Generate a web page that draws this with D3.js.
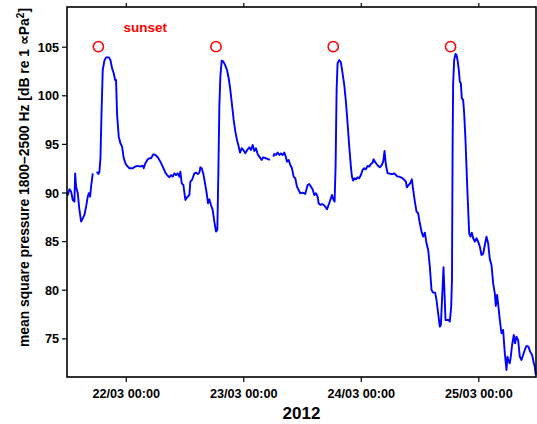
<!DOCTYPE html>
<html>
<head>
<meta charset="utf-8">
<script src="https://cdn.jsdelivr.net/npm/d3@7"></script>
<style>
  html, body { margin: 0; padding: 0; background: #fff; }
  svg { display: block; font-family: "Liberation Sans", Arial, Helvetica, sans-serif; }
</style>
</head>
<body>
<div id="chart"></div>
<script>
// mean square pressure 1800–2500 Hz, 21/03 – 25/03 2012
// hours are counted from 21/03/2012 00:00, null = gap in the record

const hours = [
  12.0, 12.16, 12.5, 12.84, 13.18, 13.52, 13.66, 13.86, 14.2, 14.54, 14.88, 15.22, 15.56, 15.9,
  16.24, 16.45, 16.72, 16.92, 17.26, 17.6,
  18.08, 18.42, 18.62, 18.83, 19.03, 19.3, 19.64, 19.98, 20.53, 20.87, 21.21, 21.55, 21.82, 22.02,
  22.23, 22.57, 22.91, 23.25, 23.59, 23.93, 24.27, 24.75, 25.43, 25.9, 26.45, 26.92, 27.47, 27.67,
  28.01, 28.49, 28.83, 29.17, 29.64, 30.05, 30.53, 31.07, 31.55, 32.09, 32.43, 32.91, 33.25, 33.59,
  33.93, 34.27, 34.61, 34.95, 35.15, 35.43, 35.77, 36.17,
  36.65, 36.99, 37.19, 37.53, 38.01, 38.35, 38.69, 39.03, 39.24, 39.51, 39.85, 40.19, 40.53, 40.8,
  41.07, 41.41, 41.75, 42.09, 42.43, 42.7, 42.91, 43.11, 43.32, 43.59, 43.93, 44.27, 44.68, 45.02,
  45.36, 45.7, 46.04, 46.38, 46.72, 47.06, 47.33, 47.67, 48.01, 48.42, 48.9, 49.24, 49.58, 49.92,
  50.26, 50.6, 50.94, 51.28, 51.75, 52.09, 52.64, 53.18, 53.45, 53.8,
  54.13, 54.34, 54.68, 55.02, 55.36, 55.7, 56.04, 56.38, 56.72, 56.92, 57.26, 57.6, 57.94, 58.28,
  58.62, 58.96, 59.3, 59.64, 60.12, 60.66,
  61.14, 61.48, 61.82, 62.16, 62.5, 62.84, 63.18, 63.39, 63.73, 64.07, 64.41, 64.75, 65.09, 65.43,
  65.77, 66.11, 66.38, 66.65, 66.85, 67.06, 67.26, 67.6, 67.94, 68.28, 68.62, 68.96, 69.3, 69.64,
  69.98, 70.19, 70.46, 70.73, 71.0, 71.34, 71.68, 72.02, 72.36, 72.7, 73.04, 73.38, 73.72, 74.07,
  74.41, 74.61, 74.88, 75.22, 75.56, 75.9, 76.31, 76.58, 76.85, 77.13, 77.47, 77.81, 78.15, 78.49,
  78.83, 79.17, 79.51, 79.85, 80.19, 80.53, 80.87, 81.21, 81.41, 81.75, 82.09, 82.43, 82.7, 83.04,
  83.38, 83.72, 84.06, 84.4, 84.74, 85.08, 85.42, 85.76, 86.1, 86.44, 86.78, 87.19, 87.46, 87.8,
  88.14, 88.35, 88.62, 88.89, 89.1, 89.3, 89.64, 89.91, 90.18, 90.46, 90.62, 90.76, 90.86, 91.07,
  91.34, 91.54, 91.75, 92.02, 92.22, 92.43, 92.63, 92.9, 93.11, 93.38, 93.58, 93.79, 94.0, 94.13,
  94.4, 94.67, 94.95, 95.29, 95.63, 95.97, 96.31, 96.65, 96.99, 97.33, 97.67, 98.01, 98.35, 98.69,
  99.03, 99.37, 99.57, 99.84, 100.11, 100.39, 100.73, 101.07, 101.41, 101.75, 101.95, 102.22, 102.43, 102.63,
  102.9, 103.24, 103.51, 103.78, 104.13, 104.47, 104.81, 105.15, 105.49, 105.83, 106.24, 106.58, 106.99, 107.33,
  107.53, 107.73
];

const levels = [
  89.9, 89.74, 90.33, 90.09, 89.23, 89.06, 91.97, 90.6, 89.92, 88.2, 87.0, 87.34, 87.69, 88.54,
  89.57, 89.92, 89.57, 90.6, 91.97, null,
  92.14, 91.9, 92.14, 93.52, 97.8, 102.6, 103.56, 103.9, 103.9, 103.63, 102.77, 102.26, 101.57, 101.57,
  97.97, 95.74, 95.06, 94.72, 93.52, 93.0, 92.73, 92.49, 92.49, 92.66, 92.73, 92.66, 92.76, 92.49,
  93.0, 93.41, 93.52, 93.52, 93.93, 93.86, 93.62, 93.17, 92.66, 92.04, 91.8, 91.56, 91.8, 91.63,
  91.97, 91.8, 91.97, 91.63, 92.14, 90.94, 90.77, 89.23,
  89.57, 89.74, 91.12, 91.29, 91.97, 92.04, 91.9, 92.04, 92.59, 92.49, 91.9, 90.94, 89.92, 88.89,
  89.3, 88.72, 88.2, 87.0, 85.97, 86.14, 91.97, 98.83, 101.92, 103.56, 103.46, 103.12, 102.6, 101.75,
  100.55, 99.0, 97.46, 96.26, 95.4, 94.72, 94.1, 94.55, 94.37, 94.03, 94.44, 94.65, 94.37, 94.89,
  94.27, 94.55, 93.93, 93.69, 93.35, 93.62, 93.52, 93.41, 93.35, null,
  93.69, 93.96, 93.86, 94.1, 93.86, 94.03, 93.86, 94.1, 93.62, 93.17, 93.35, 92.83, 92.49, 91.63,
  91.46, 90.6, 90.26, 89.92, 89.98, 89.85,
  90.77, 90.88, 90.6, 90.33, 89.74, 89.92, 89.57, 88.89, 88.72, 88.82, 88.72, 88.54, 88.27, 88.72,
  89.23, 89.74, 89.3, 89.06, 92.66, 100.55, 103.29, 103.63, 103.36, 102.26, 101.06, 99.35, 97.12, 94.72,
  92.66, 91.63, 91.22, 91.46, 91.36, 91.56, 91.46, 91.8, 92.31, 92.49, 92.38, 92.73, 92.66, 92.93,
  93.07, 93.41, 93.17, 92.93, 92.73, 92.59, 92.83, 93.17, 94.27, 92.83, 91.97, 91.97, 91.9, 91.9,
  91.97, 91.8, 91.63, 91.63, 91.56, 91.46, 91.29, 91.12, 90.53, 90.77, 90.94, 91.36, 90.26, 89.06,
  88.03, 87.86, 86.83, 85.97, 85.46, 85.87, 84.77, 84.09, 82.37, 79.97, 79.7, 79.7, 78.94, 77.57,
  76.2, 76.37, 79.29, 82.31, 79.63, 76.89, 76.89, 76.89, 76.72, 78.26, 81.0, 95.4, 101.23, 103.63,
  104.25, 104.15, 103.63, 102.6, 101.4, 101.23, 99.69, 99.52, 98.15, 95.4, 92.66, 89.92, 87.4, 85.8,
  85.46, 85.87, 85.29, 84.95, 85.29, 84.95, 84.43, 83.57, 83.68, 84.6, 85.46, 84.77, 83.13, 82.54,
  80.66, 79.63, 78.33, 79.46, 78.26, 76.89, 75.52, 75.86, 73.46, 71.74, 73.11, 72.6, 72.43, 73.11,
  74.31, 75.34, 74.49, 75.17, 74.83, 73.11, 72.77, 73.29, 73.8, 74.21, 74.14, 73.63, 73.29, 72.43,
  72.09, 71.23
];

// sunset times (hours from 21/03 00:00) and the level where they are marked
const sunsetHours = [18.41, 42.43, 66.37, 90.33];
const sunsetLevel = 105;

const yTicks = [75, 80, 85, 90, 95, 100, 105];
const dayTicks = ['2012-03-22', '2012-03-23', '2012-03-24', '2012-03-25'];

// ---------------------------------------------------------------------------
const W = 537, H = 424;
const margin = { top: 7, right: 1, bottom: 47, left: 67 };
const width  = W - margin.left - margin.right;
const height = H - margin.top - margin.bottom;

const t0 = new Date(2012, 2, 21, 0, 0);
const toDate = h => new Date(t0.getTime() + h * 3600e3);

const points = hours.map((h, i) => ({ date: toDate(h), value: levels[i] }));

const svg = d3.select('#chart')
  .append('svg')
    .attr('width', W)
    .attr('height', H);

const g = svg.append('g')
    .attr('transform', `translate(${margin.left},${margin.top})`);

// escalas
const x = d3.scaleTime()
  .domain([toDate(12), toDate(107.78)])
  .range([0, width]);

const y = d3.scaleLinear()
  .domain([71.02, 109.08])
  .range([height, 0]);

// ejes
const fmt = d3.timeFormat('%d/%m %H:%M');
const tickDates = dayTicks.map(s => d3.timeParse('%Y-%m-%d')(s));

const xAxis = g.append('g')
    .attr('transform', `translate(0,${height})`)
    .call(d3.axisBottom(x).tickValues(tickDates).tickFormat(fmt).tickSize(5).tickPadding(7));

const xTop = g.append('g')
    .call(d3.axisTop(x).tickValues(tickDates).tickFormat('').tickSize(4));

const yAxis = g.append('g')
    .call(d3.axisLeft(y).tickValues(yTicks).tickSize(5).tickPadding(3));

[xAxis, xTop, yAxis].forEach(a => {
  a.select('.domain').remove();
  a.selectAll('.tick line').attr('stroke', '#000').attr('stroke-width', 1.2);
  a.selectAll('.tick text')
    .attr('fill', '#000')
    .style('font-family', '"Liberation Sans", Arial, sans-serif')
    .style('font-weight', 'bold')
    .style('font-size', '12.7px');
});
yAxis.selectAll('.tick text').attr('dy', '0.36em');

// línea
const line = d3.line()
  .defined(d => d.value != null)
  .x(d => x(d.date))
  .y(d => y(d.value));

g.append('path')
    .datum(points)
    .attr('fill', 'none')
    .attr('stroke', '#0000ff')
    .attr('stroke-width', 1.9)
    .attr('stroke-linejoin', 'round')
    .attr('d', line);

// marcas de puesta de sol
g.append('g')
  .selectAll('circle')
  .data(sunsetHours)
  .join('circle')
    .attr('cx', h => x(toDate(h)))
    .attr('cy', y(sunsetLevel))
    .attr('r', 5.1)
    .attr('fill', 'none')
    .attr('stroke', '#ff0000')
    .attr('stroke-width', 1.6);

g.append('text')
    .attr('x', 123.5 - margin.left)
    .attr('y', 31.5 - margin.top)
    .attr('fill', '#ff0000')
    .style('font-weight', 'bold')
    .style('font-size', '13.5px')
    .text('sunset');

// marco
g.append('rect')
    .attr('x', 0).attr('y', 0)
    .attr('width', width).attr('height', height)
    .attr('fill', 'none')
    .attr('stroke', '#000')
    .attr('stroke-width', 1.6);

// rótulos
svg.append('text')
    .attr('x', margin.left + width / 2)
    .attr('y', 419)
    .attr('text-anchor', 'middle')
    .style('font-weight', 'bold')
    .style('font-size', '17px')
    .text('2012');

const yl = svg.append('text')
    .attr('transform', 'translate(29,177.5) rotate(-90)')
    .attr('text-anchor', 'middle')
    .style('font-weight', 'bold')
    .style('font-size', '13.9px');
yl.append('tspan').text('mean square pressure 1800–2500 Hz [dB re 1 ∝Pa');
yl.append('tspan').attr('dy', -5.5).style('font-size', '10px').text('2');
yl.append('tspan').attr('dy', 5.5).text(']');
</script>
</body>
</html>
